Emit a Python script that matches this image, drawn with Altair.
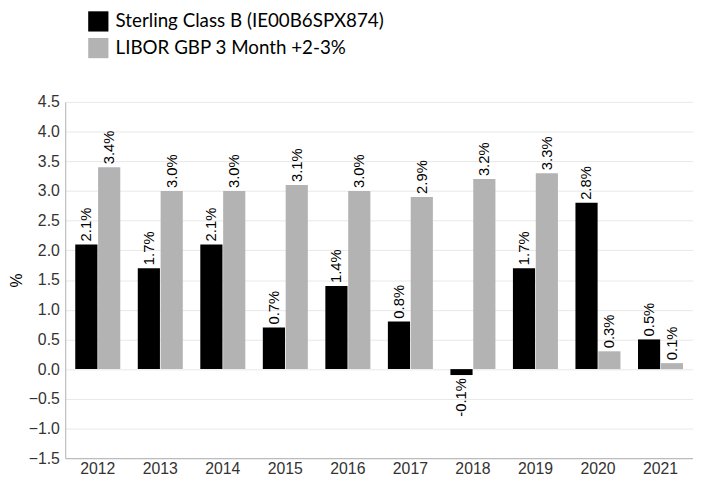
import altair as alt
import pandas as pd

years = ["2012", "2013", "2014", "2015", "2016", "2017", "2018", "2019", "2020", "2021"]
sterling = [2.1, 1.7, 2.1, 0.7, 1.4, 0.8, -0.1, 1.7, 2.8, 0.5]
libor = [3.4, 3.0, 3.0, 3.1, 3.0, 2.9, 3.2, 3.3, 0.3, 0.1]
series_names = ["Sterling Class B (IE00B6SPX874)", "LIBOR GBP 3 Month +2-3%"]
series_colors = ["#000000", "#b3b3b3"]
y_ticks = [-1.5, -1.0, -0.5, 0.0, 0.5, 1.0, 1.5, 2.0, 2.5, 3.0, 3.5, 4.0, 4.5]

rows = []
for i, y in enumerate(years):
    rows.append({"year": y, "series": series_names[0], "value": sterling[i]})
    rows.append({"year": y, "series": series_names[1], "value": libor[i]})
df = pd.DataFrame(rows)
df["label"] = df["value"].map(lambda v: f"{v:.1f}%")

AX_FONT = "Arial, Liberation Sans, sans-serif"

x = alt.X("year:N", title=None, sort=years,
          scale=alt.Scale(paddingInner=0.28, paddingOuter=0.16),
          axis=alt.Axis(labelAngle=0, labelFontSize=16, labelColor="#333333",
                        labelFont=AX_FONT, ticks=False, domainColor="#b0b0b0",
                        labelPadding=3, grid=False))
xo = alt.XOffset("series:N", sort=series_names,
                 scale=alt.Scale(paddingInner=0.03))
y = alt.Y("value:Q", title="%",
          scale=alt.Scale(domain=[-1.5, 4.5], nice=False, zero=False),
          axis=alt.Axis(values=y_ticks, tickCount=13, format=".1f",
                        labelOverlap=False,
                        labelFontSize=16, labelColor="#333333", labelFont=AX_FONT,
                        ticks=False, domainColor="#b0b0b0", gridColor="#e8e8e8",
                        labelPadding=6, titleFontSize=16, titleFont=AX_FONT,
                        titleFontWeight="normal", titleColor="#000000",
                        titlePadding=4))

color = alt.Color("series:N", sort=series_names,
                  scale=alt.Scale(domain=series_names, range=series_colors),
                  legend=alt.Legend(title=None, orient="none", legendX=23, legendY=-92,
                                    symbolType="square", symbolSize=420,
                                    symbolStrokeWidth=0, labelFontSize=19,
                                    labelFont="Lato", labelColor="#000000",
                                    labelLimit=0,
                                    rowPadding=6, labelOffset=7, symbolOpacity=1))

base = alt.Chart(df).encode(x=x, xOffset=xo, y=y)

bars = base.mark_bar(opacity=1).encode(color=color)

pos = base.transform_filter("datum.value >= 0").mark_text(
    angle=270, align="left", baseline="middle", dx=3, fontSize=15,
    font=AX_FONT, color="#000000").encode(text="label:N")
neg = base.transform_filter("datum.value < 0").mark_text(
    angle=270, align="right", baseline="middle", dx=-3, fontSize=15,
    font=AX_FONT, color="#000000").encode(text="label:N")

chart = alt.layer(bars, pos, neg).properties(
    width=636, height=361,
    padding={"left": 0, "top": 0, "right": 0, "bottom": 0}
).configure_view(stroke=None)

chart.save("out.html", embed_options={"renderer": "svg", "actions": False})
